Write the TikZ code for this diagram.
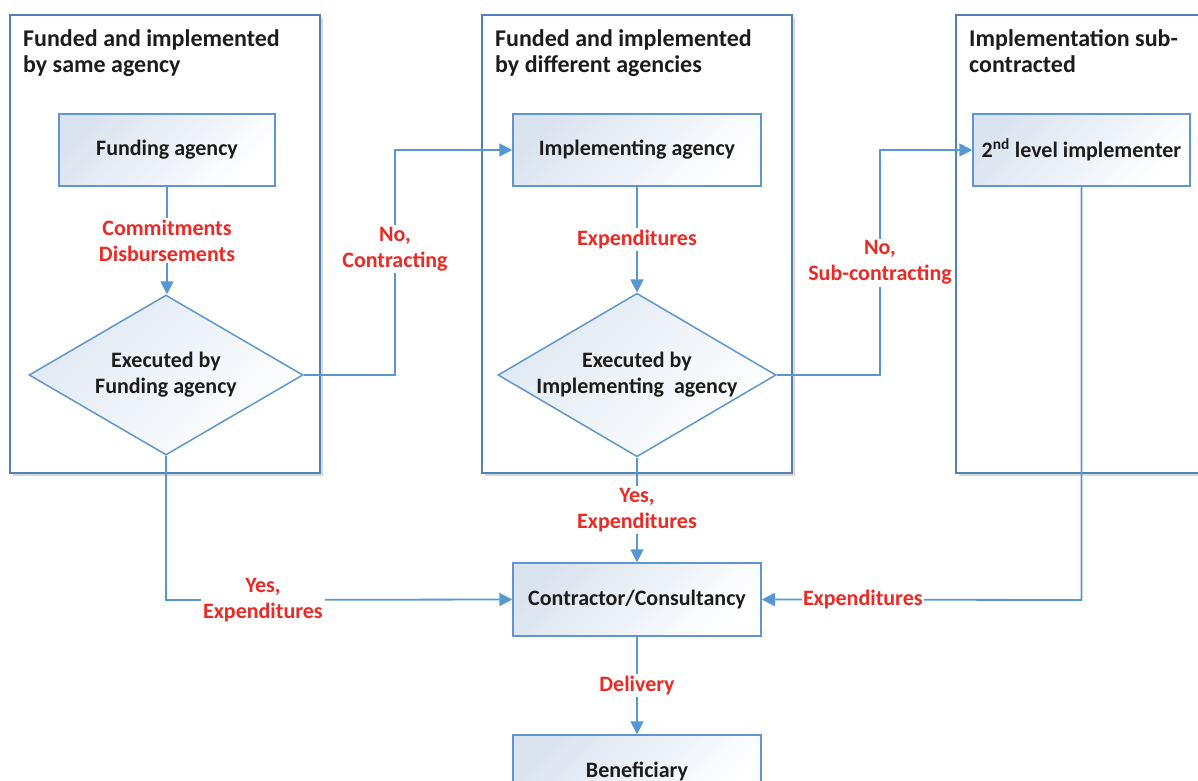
\documentclass[tikz,border=0pt]{standalone}
\usepackage{fontspec}
\setmainfont{Carlito}
\usetikzlibrary{shapes.geometric,arrows.meta,shadows}

\definecolor{panelc}{RGB}{84,128,182}
\definecolor{linec}{RGB}{88,152,210}
\definecolor{boxc}{RGB}{96,150,205}
\definecolor{fillc}{RGB}{218,228,240}
\definecolor{redc}{RGB}{235,42,38}
\definecolor{inkc}{RGB}{28,28,28}

\begin{document}
\begin{tikzpicture}[x=1pt,y=-1pt,
  txt/.style={font=\fontsize{22pt}{26pt}\selectfont\bfseries, text=inkc},
  panel/.style={draw=panelc, line width=1.8pt, fill=white,
    drop shadow={shadow xshift=2.5pt, shadow yshift=-3pt, opacity=0.22, fill=black!70}},
  title/.style={font=\fontsize{24pt}{26pt}\selectfont\bfseries, text=inkc,
    anchor=north west, inner sep=0pt, align=left},
  box/.style={txt, draw=boxc, line width=1.5pt, minimum width=216pt, minimum height=72pt,
    inner sep=0pt, shading=axis, top color=fillc, bottom color=white, shading angle=45},
  decision/.style={txt, diamond, aspect=1.7, draw=boxc, line width=1.5pt,
    minimum width=274pt, minimum height=160pt, inner sep=0pt, align=center,
    shading=axis, top color=fillc!85, bottom color=white, shading angle=45},
  flow/.style={draw=linec, line width=1.8pt, -{Triangle[length=13pt,width=13pt]}},
  lab/.style={font=\fontsize{22pt}{26pt}\selectfont\bfseries, text=redc, fill=white,
    inner sep=2pt, align=center}
]
\useasboundingbox (0,0) rectangle (1198,780);
\begin{scope}
\clip (0,0) rectangle (1198,780);

% swim lanes
\node[panel, minimum width=310pt, minimum height=458pt, inner sep=0pt] (lane1) at (165,244) {};
\node[panel, minimum width=310pt, minimum height=458pt, inner sep=0pt] (lane2) at (637,244) {};
\node[panel, minimum width=320pt, minimum height=458pt, inner sep=0pt] (lane3) at (1116,244) {};

\node[title] (t1) at (23,29) {Funded and implemented\\by same agency};
\node[title] (t2) at (495,29) {Funded and implemented\\by different agencies};
\node[title] (t3) at (969,29) {Implementation sub-\\contracted};

% process boxes
\node[box] (fund) at (167,150) {Funding agency};
\node[box, minimum width=248pt] (impl) at (637,150) {Implementing agency};
\node[box, minimum width=217pt] (sub) at (1081.5,150) {2\textsuperscript{nd} level implementer};
\node[box, minimum width=248pt, minimum height=73pt] (contr) at (637,599.5) {Contractor/Consultancy};
\node[box, minimum width=248pt] (benef) at (637,771) {Beneficiary};

% decisions
\node[decision] (d1) at (166,375) {Executed by\\Funding agency};
\node[decision] (d2) at (637,375) {Executed by\\Implementing\ \ agency};

% connectors
\draw[flow] (fund.south) -- node[lab] {Commitments\\Disbursements} (fund.south |- d1.north);
\draw[flow] (d1.east) -- (395,375) -- node[lab, pos=0.56] {No,\\Contracting} (395,150) -- (impl.west);
\draw[flow] (impl) -- node[lab] {Expenditures} (d2.north);
\draw[flow] (d2.east) -- (880,375) -- node[lab, pos=0.5] {No,\\Sub-contracting} (880,150) -- (sub.west);
\draw[flow] (d2.south) -- node[lab] {Yes,\\Expenditures} (contr.north);
\draw[flow] (d1.south) -- (166,600) -- node[lab, pos=0.28] {Yes,\\Expenditures} (contr.west);
\draw[flow] (sub.south) -- (1081.5,600) -- node[lab, pos=0.684, inner sep=1pt] {Expenditures} (contr.east);
\draw[flow] (contr.south) -- node[lab] {Delivery} (benef.north);
\end{scope}
\end{tikzpicture}
\end{document}
